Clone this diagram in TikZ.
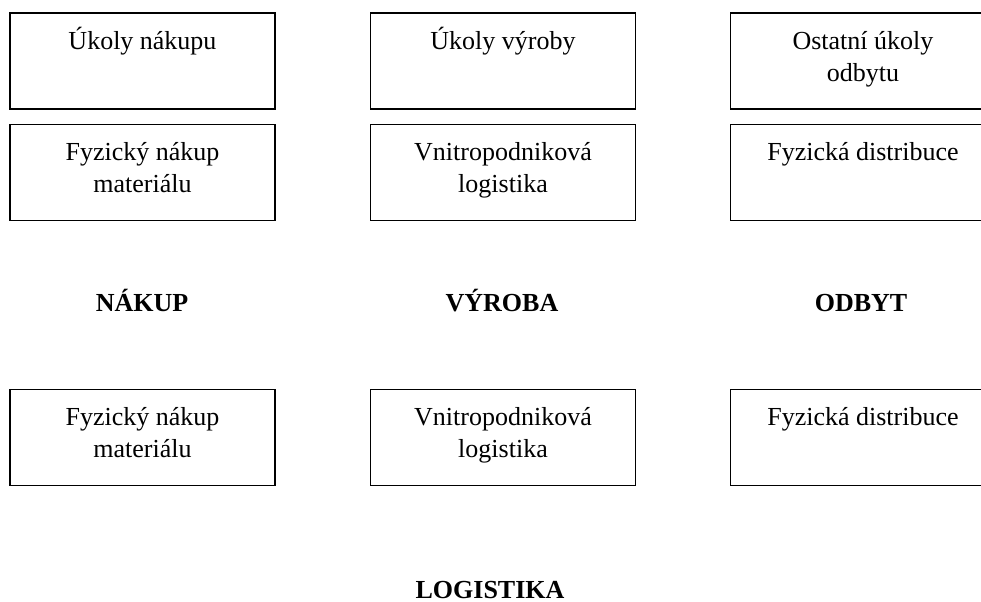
\documentclass[tikz,border=0pt]{standalone}
\usepackage{fontspec}
\setmainfont{Liberation Serif}

\begin{document}
\begin{tikzpicture}[x=0.5pt,y=-0.5pt,
  caja/.style={draw,line width=0.8pt,minimum width=132.5pt,minimum height=48pt,inner sep=0pt},
  texto/.style={anchor=base,text width=125pt,align=flush center,inner sep=0pt,yshift=-18.6pt,
    font=\fontsize{13}{16}\selectfont},
  titulo/.style={anchor=base,inner sep=0pt,font=\fontsize{13}{16}\selectfont\bfseries}]
  \useasboundingbox (0,0) rectangle (981,601);
  % Ukoly
  \node[caja,label={[texto]north:Úkoly nákupu}] (nakupUkoly) at (142.5,61) {};
  \node[caja,label={[texto]north:Úkoly výroby}] (vyrobaUkoly) at (503,61) {};
  \node[caja,label={[texto]north:Ostatní úkoly\\odbytu}] (odbytUkoly) at (863,61) {};
  % Logisticke ukoly
  \node[caja,label={[texto]north:Fyzický nákup\\materiálu}] (nakupLog) at (142.5,172.5) {};
  \node[caja,label={[texto]north:Vnitropodniková\\logistika}] (vyrobaLog) at (503,172.5) {};
  \node[caja,label={[texto]north:Fyzická distribuce}] (odbytLog) at (863,172.5) {};
  % Oblasti
  \node[titulo] (nakup) at (142,311) {NÁKUP};
  \node[titulo] (vyroba) at (502,311) {VÝROBA};
  \node[titulo] (odbyt) at (861,311) {ODBYT};
  % Logistika
  \node[caja,label={[texto]north:Fyzický nákup\\materiálu}] (logNakup) at (142.5,437.5) {};
  \node[caja,label={[texto]north:Vnitropodniková\\logistika}] (logVyroba) at (503,437.5) {};
  \node[caja,label={[texto]north:Fyzická distribuce}] (logOdbyt) at (863,437.5) {};
  \node[titulo] (logistika) at (490,598) {LOGISTIKA};
\end{tikzpicture}
\end{document}
